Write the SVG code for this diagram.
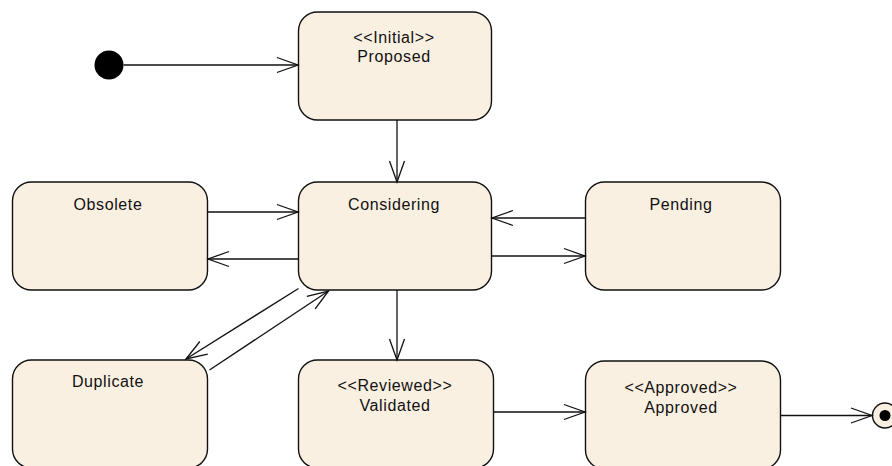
<svg xmlns="http://www.w3.org/2000/svg" width="892" height="466" viewBox="0 0 892 466">
<style>
.node rect{fill:#FAF0E1;stroke:#111;stroke-width:1.4}
.node text{font-family:"Liberation Sans",Arial,sans-serif;font-size:16px;letter-spacing:0.6px;fill:#111;text-anchor:middle}
.conn line{stroke:#111;stroke-width:1.3;fill:none;marker-end:url(#arr)}
</style>
<defs>
<marker id="arr" markerWidth="26" markerHeight="20" refX="23" refY="10" orient="auto" markerUnits="userSpaceOnUse" viewBox="0 0 26 20">
<path d="M2,2.5 L23,10 L2,17.5" fill="none" stroke="#111" stroke-width="1.3"/>
</marker>
</defs>
<rect width="892" height="466" fill="#fff"/>
<g id="initial"><circle cx="109" cy="65" r="14.5" fill="#000"/></g>
<g id="final"><circle cx="885" cy="415.5" r="12.5" fill="#FAF0E1" stroke="#111" stroke-width="1.4"/><circle cx="885" cy="415.5" r="5.5" fill="#000"/></g>
<g id="proposed" class="node"><rect x="298.5" y="12" width="193" height="108" rx="19"/><text x="394" y="43">&lt;&lt;Initial&gt;&gt;</text><text x="394" y="62">Proposed</text></g>
<g id="obsolete" class="node"><rect x="12.5" y="182" width="195" height="108" rx="19"/><text x="108" y="210">Obsolete</text></g>
<g id="considering" class="node"><rect x="298.5" y="182" width="193" height="108" rx="19"/><text x="394" y="210">Considering</text></g>
<g id="pending" class="node"><rect x="585.5" y="182" width="195" height="108" rx="19"/><text x="681" y="210">Pending</text></g>
<g id="duplicate" class="node"><rect x="12.5" y="360" width="195" height="108" rx="19"/><text x="108" y="387">Duplicate</text></g>
<g id="validated" class="node"><rect x="298.5" y="360" width="195" height="108" rx="19"/><text x="395" y="391">&lt;&lt;Reviewed&gt;&gt;</text><text x="395" y="411">Validated</text></g>
<g id="approved" class="node"><rect x="585.5" y="361" width="195" height="108" rx="19"/><text x="681" y="393">&lt;&lt;Approved&gt;&gt;</text><text x="681" y="413">Approved</text></g>
<g id="connectors" class="conn">
<line x1="123.5" y1="65" x2="298" y2="65"/>
<line x1="397" y1="120" x2="397" y2="182"/>
<line x1="207.5" y1="212" x2="298" y2="212"/>
<line x1="298.5" y1="259" x2="208" y2="259"/>
<line x1="585.5" y1="218" x2="492" y2="218"/>
<line x1="491.5" y1="256" x2="585" y2="256"/>
<line x1="298.5" y1="288.5" x2="186" y2="359"/>
<line x1="209.5" y1="370" x2="328.5" y2="291"/>
<line x1="397" y1="290" x2="397" y2="360"/>
<line x1="493.5" y1="412" x2="585" y2="412"/>
<line x1="780.5" y1="415.5" x2="872" y2="415.5"/>
</g>
</svg>
